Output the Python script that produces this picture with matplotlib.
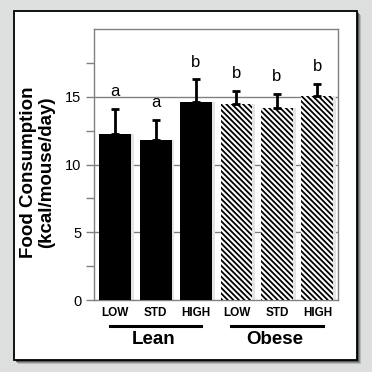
import numpy as np
import matplotlib
matplotlib.use('Agg')
import matplotlib.pyplot as plt
from matplotlib.patches import Rectangle
from matplotlib.lines import Line2D

plt.rcParams['font.family'] = ['Liberation Sans', 'DejaVu Sans']
plt.rcParams['hatch.linewidth'] = 1.3

# data
categories = ['LOW', 'STD', 'HIGH', 'LOW', 'STD', 'HIGH']
groups = ['Lean', 'Obese']
means = [12.3, 11.85, 14.6, 14.45, 14.2, 15.05]
errors = [1.8, 1.45, 1.7, 1.0, 1.0, 0.9]
letters = ['a', 'a', 'b', 'b', 'b', 'b']

W = 372
fig = plt.figure(figsize=(W / 100, W / 100), dpi=100)
fig.patch.set_facecolor('#dcdfde')

# white frame with a drop shadow
def fx(px):
    return px / W

def fy(px):
    return 1 - px / W

for k, c in enumerate(['#b8baba', '#8e9090', '#5a5c5c']):
    off = 4 - k
    fig.patches.append(Rectangle((fx(13.5 + off), fy(360 + off)), fx(343), fx(349),
                                 transform=fig.transFigure, facecolor=c,
                                 edgecolor='none', zorder=0))
fig.patches.append(Rectangle((fx(13.5), fy(360)), fx(343), fx(349),
                             transform=fig.transFigure, facecolor='white',
                             edgecolor='black', linewidth=1.3, zorder=1))

ax = fig.add_axes([fx(94), fy(300), fx(337.7 - 94), fx(300 - 29.3)])
ax.set_zorder(2)

x = np.arange(len(categories))
grid_col = '#808080'

for yv in [5, 10, 15]:
    ax.axhline(yv, color=grid_col, linewidth=1.0, zorder=1)

# faint shadow beside each bar
ax.bar(x + 0.07, means, width=0.79, color='#e4e4e4', zorder=2)
ax.bar(x[:3], means[:3], width=0.79, color='black', zorder=3)
ax.bar(x[3:], means[3:], width=0.79, color='white', edgecolor='black',
       linewidth=0, hatch='\\' * 6, zorder=3)
ax.errorbar(x, means, yerr=[np.zeros(len(means)), errors], fmt='none',
            ecolor='black', elinewidth=2, capsize=3, capthick=2, zorder=4)

for xi, m, e, t in zip(x, means, errors, letters):
    ax.text(xi, m + e + 0.95, t, ha='center', va='baseline', fontsize=12,
            color='black')

ax.set_xlim(-0.52, 5.5)
ax.set_ylim(0, 20)
ax.set_yticks([0, 5, 10, 15])
ax.set_yticks([2.5, 7.5, 12.5, 17.5], minor=True)
ax.set_yticklabels(['0', '5', '10', '15'], fontsize=10.5)
ax.tick_params(axis='y', which='both', direction='out', length=6,
               color=grid_col, width=1, pad=3)
ax.set_xticks([])
for s in ax.spines.values():
    s.set_color(grid_col)
    s.set_linewidth(1.0)

trans = ax.get_xaxis_transform()
for xi, lab in zip(x, categories):
    ax.text(xi, -0.059, lab, transform=trans, ha='center', va='baseline',
            fontsize=8.5, fontweight='bold')

for gi, g in enumerate(groups):
    c = 1 + 3 * gi
    ax.add_line(Line2D([c - 1.13, c + 1.13], [-0.096, -0.096], transform=trans,
                       color='black', linewidth=2.2, clip_on=False))
    ax.text(c - 0.05, -0.1625, g, transform=trans, ha='center', va='baseline',
            fontsize=13.5, fontweight='bold')

fig.text(fx(37.5), fy(172.5), 'Food Consumption\n(kcal/mouse/day)', rotation=90,
         ha='center', va='center', multialignment='center', fontsize=13.5,
         fontweight='bold', linespacing=1.05)

fig.savefig('out.png', dpi=100, facecolor=fig.get_facecolor())
